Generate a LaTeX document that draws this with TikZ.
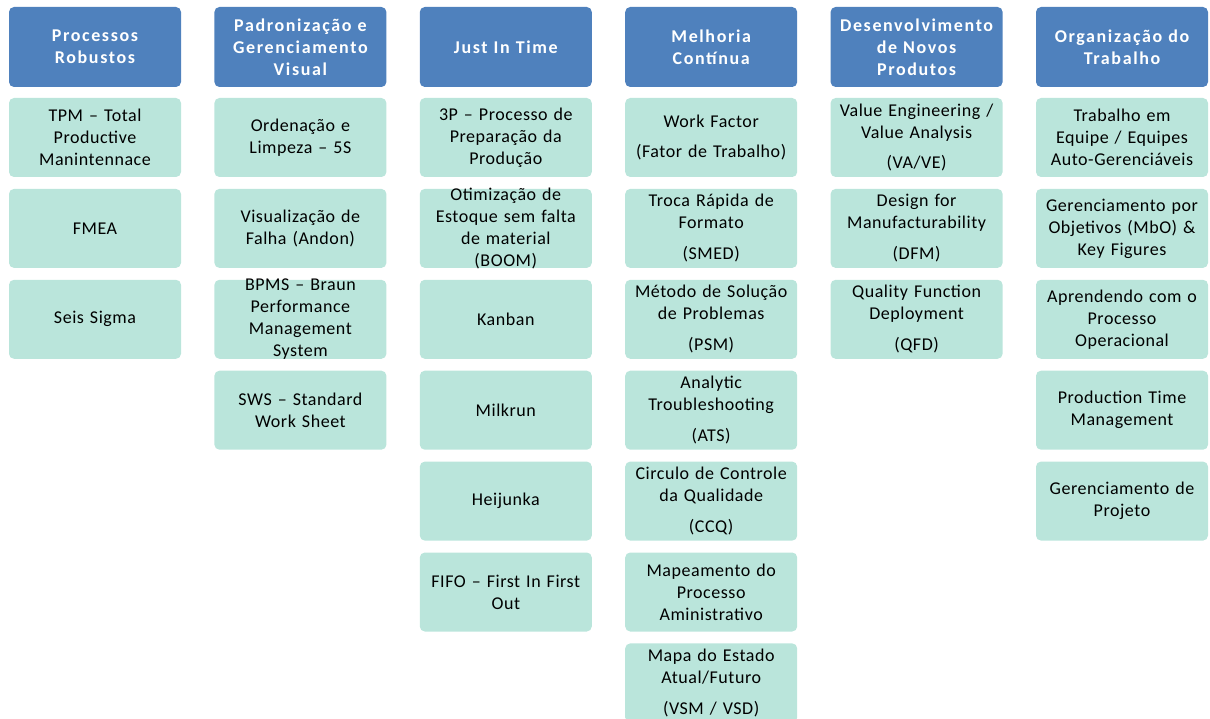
\documentclass[tikz,border=0pt]{standalone}
\usepackage{fontspec}
\setmainfont{Carlito}
\newfontfamily\itmfont[LetterSpace=3]{Carlito}
\newfontfamily\hdrfont[LetterSpace=9]{Carlito}
\definecolor{hdr}{RGB}{79,129,189}
\definecolor{itm}{RGB}{186,229,219}
\newcommand\hdrbox[3]{%
  \node[hdrshape] (#1) at (#2,-47) {};
  \node[hdrtext] (#1t) at (#1.center) {#3};}
\newcommand\itmbox[4]{%
  \node[itmshape] (#1) at (#2,{-137.5-90.9*(#3)}) {};
  \node[itmtext] (#1t) at (#1.center) {#4};}
\begin{document}
\begin{tikzpicture}[x=1pt,y=1pt,
  shapebase/.style={rounded corners=5pt, minimum width=172pt, inner sep=0pt, draw=none},
  hdrshape/.style={shapebase, fill=hdr, minimum height=80pt},
  itmshape/.style={shapebase, fill=itm, minimum height=79pt},
  textbase/.style={inner sep=0pt, text width=200pt, align=center},
  hdrtext/.style={textbase, text=white, font=\hdrfont\fontsize{18}{22}\selectfont\bfseries},
  itmtext/.style={textbase, text=black, font=\itmfont\fontsize{18}{22}\selectfont}]
\useasboundingbox (0,0) rectangle (1210,-719);
\clip (0,0) rectangle (1210,-719);
% column 1
\hdrbox{h1}{95}{Processos\\Robustos}
\itmbox{a1}{95}{0}{TPM – Total\\Productive\\Manintennace}
\itmbox{a2}{95}{1}{FMEA}
\itmbox{a3}{95}{2}{Seis Sigma}
% column 2
\hdrbox{h2}{300.4}{Padronização e\\Gerenciamento\\Visual}
\itmbox{b1}{300.4}{0}{Ordenação e\\Limpeza – 5S}
\itmbox{b2}{300.4}{1}{Visualização de\\Falha (Andon)}
\itmbox{b3}{300.4}{2}{BPMS – Braun\\Performance\\Management\\System}
\itmbox{b4}{300.4}{3}{SWS – Standard\\Work Sheet}
% column 3
\hdrbox{h3}{505.8}{Just In Time}
\itmbox{c1}{505.8}{0}{3P – Processo de\\Preparação da\\Produção}
\itmbox{c2}{505.8}{1}{Otimização de\\Estoque sem falta\\de material\\(BOOM)}
\itmbox{c3}{505.8}{2}{Kanban}
\itmbox{c4}{505.8}{3}{Milkrun}
\itmbox{c5}{505.8}{4}{Heijunka}
\itmbox{c6}{505.8}{5}{FIFO – First In First\\Out}
% column 4
\hdrbox{h4}{711.2}{Melhoria\\Contínua}
\itmbox{d1}{711.2}{0}{Work Factor\\[8pt](Fator de Trabalho)}
\itmbox{d2}{711.2}{1}{Troca Rápida de\\Formato\\[9pt](SMED)}
\itmbox{d3}{711.2}{2}{Método de Solução\\de Problemas\\[9pt](PSM)}
\itmbox{d4}{711.2}{3}{Analytic\\Troubleshooting\\[9pt](ATS)}
\itmbox{d5}{711.2}{4}{Circulo de Controle\\da Qualidade\\[9pt](CCQ)}
\itmbox{d6}{711.2}{5}{Mapeamento do\\Processo\\Aministrativo}
\itmbox{d7}{711.2}{6}{Mapa do Estado\\Atual/Futuro\\[9pt](VSM / VSD)}
% column 5
\hdrbox{h5}{916.6}{Desenvolvimento\\de Novos\\Produtos}
\itmbox{e1}{916.6}{0}{Value Engineering /\\Value Analysis\\[8pt](VA/VE)}
\itmbox{e2}{916.6}{1}{Design for\\Manufacturability\\[9pt](DFM)}
\itmbox{e3}{916.6}{2}{Quality Function\\Deployment\\[9pt](QFD)}
% column 6
\hdrbox{h6}{1122}{Organização do\\Trabalho}
\itmbox{f1}{1122}{0}{Trabalho em\\Equipe / Equipes\\Auto-Gerenciáveis}
\itmbox{f2}{1122}{1}{Gerenciamento por\\Objetivos (MbO) \&\\Key Figures}
\itmbox{f3}{1122}{2}{Aprendendo com o\\Processo\\Operacional}
\itmbox{f4}{1122}{3}{Production Time\\Management}
\itmbox{f5}{1122}{4}{Gerenciamento de\\Projeto}
\end{tikzpicture}
\end{document}
